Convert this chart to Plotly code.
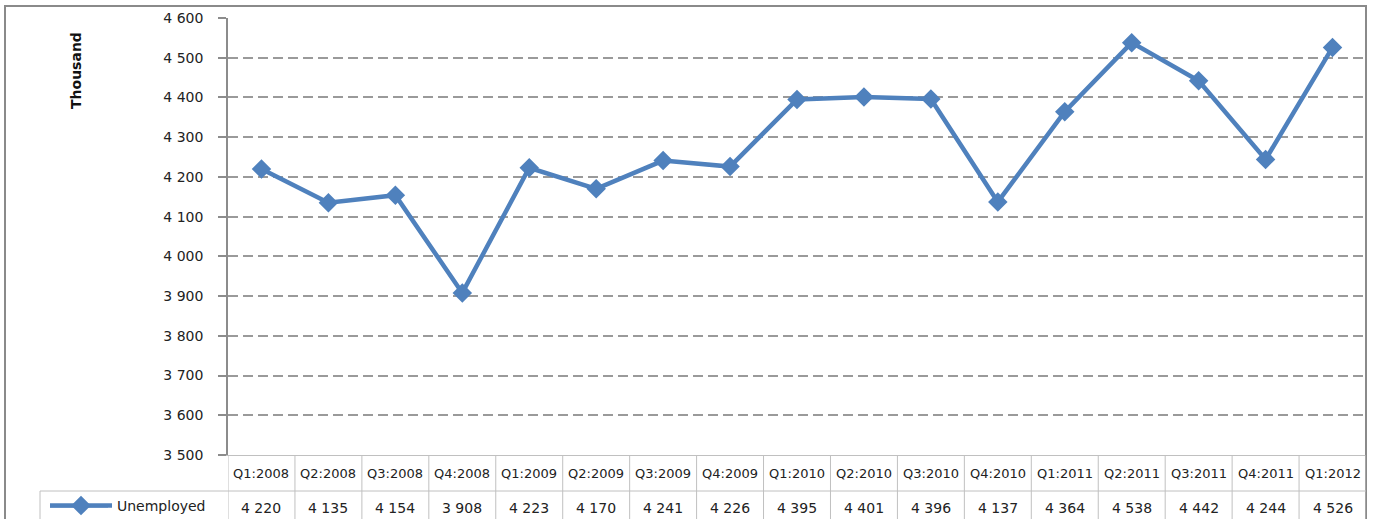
import plotly.graph_objects as go

categories = ["Q1:2008", "Q2:2008", "Q3:2008", "Q4:2008", "Q1:2009", "Q2:2009", "Q3:2009",
              "Q4:2009", "Q1:2010", "Q2:2010", "Q3:2010", "Q4:2010", "Q1:2011", "Q2:2011",
              "Q3:2011", "Q4:2011", "Q1:2012"]
unemployed = [4220, 4135, 4154, 3908, 4223, 4170, 4241, 4226, 4395, 4401, 4396, 4137,
              4364, 4538, 4442, 4244, 4526]
y_ticks = [3500, 3600, 3700, 3800, 3900, 4000, 4100, 4200, 4300, 4400, 4500, 4600]

W, H = 1378, 519
L, T = 228, 18
R = W - 1366
B = H - 455
pw, ph = W - L - R, H - T - B


def px_x(x):
    return (x - L) / pw


def px_y(y):
    return (H - B - y) / ph


def fmt(v):
    return f"{v:,}".replace(",", " ")


blue = "#4F81BD"
fig = go.Figure()
fig.add_trace(go.Scatter(
    x=list(range(len(categories))), y=unemployed, mode="lines+markers",
    name="Unemployed",
    line=dict(color=blue, width=4.5),
    marker=dict(symbol="diamond", size=15, color=blue),
))

cell = "#c0c0c0"
shapes = []
shapes.append(dict(type="rect", xref="paper", yref="paper", x0=px_x(5), x1=px_x(1366),
                   y0=px_y(540), y1=px_y(6), line=dict(color="#8a8a8a", width=2)))
for i in range(len(categories) + 1):
    shapes.append(dict(type="line", xref="x", yref="paper", x0=i - 0.5, x1=i - 0.5,
                       y0=0, y1=px_y(540), line=dict(color=cell, width=1)))
shapes.append(dict(type="line", xref="paper", yref="paper", x0=px_x(40), x1=1,
                   y0=px_y(491), y1=px_y(491), line=dict(color=cell, width=1)))
shapes.append(dict(type="line", xref="paper", yref="paper", x0=px_x(40), x1=px_x(40),
                   y0=px_y(491), y1=px_y(540), line=dict(color=cell, width=1)))
# legend key line extension
shapes.append(dict(type="line", xref="paper", yref="paper", x0=px_x(50), x1=px_x(108),
                   y0=px_y(506), y1=px_y(506), line=dict(color=blue, width=3)))

annotations = []
for i, (c, v) in enumerate(zip(categories, unemployed)):
    annotations.append(dict(x=i, y=px_y(473), xref="x", yref="paper", text=c, showarrow=False,
                            font=dict(size=13, color="#222"), yanchor="middle"))
    annotations.append(dict(x=i, y=px_y(508), xref="x", yref="paper", text=fmt(v), showarrow=False,
                            font=dict(size=14, color="#222"), yanchor="middle"))
annotations.append(dict(x=px_x(76), y=px_y(71), xref="paper", yref="paper", text="<b>Thousand</b>",
                        textangle=-90, showarrow=False, xanchor="center", yanchor="middle",
                        font=dict(size=14, color="#111")))

fig.update_layout(
    width=W, height=H,
    margin=dict(l=L, r=R, t=T, b=B, pad=0, autoexpand=False),
    paper_bgcolor="white", plot_bgcolor="white",
    font=dict(family="DejaVu Sans", size=14, color="#222"),
    showlegend=True,
    legend=dict(x=px_x(45), y=px_y(506), xanchor="left", yanchor="middle",
                bgcolor="rgba(0,0,0,0)", font=dict(size=14, color="#222"), itemwidth=62),
    xaxis=dict(range=[-0.5, len(categories) - 0.5], showticklabels=False, showgrid=False,
               zeroline=False, showline=True, linecolor=cell, linewidth=1, ticks=""),
    yaxis=dict(range=[3500, 4600], tickvals=y_ticks, ticktext=[fmt(v) for v in y_ticks],
               showgrid=True, gridcolor="#9a9a9a", griddash="10px,5px", gridwidth=1.5,
               zeroline=False, showline=True, linecolor="#8c8c8c", linewidth=1.5,
               ticks="outside", ticklen=8, tickcolor="#8c8c8c", tickwidth=1.5,
               ticklabelstandoff=12,
               tickfont=dict(size=14, color="#222")),
    shapes=shapes, annotations=annotations,
)
fig.write_html("out.html", config={"displayModeBar": False},
               post_script="document.body.style.margin='0px';document.body.style.overflow='hidden';")
